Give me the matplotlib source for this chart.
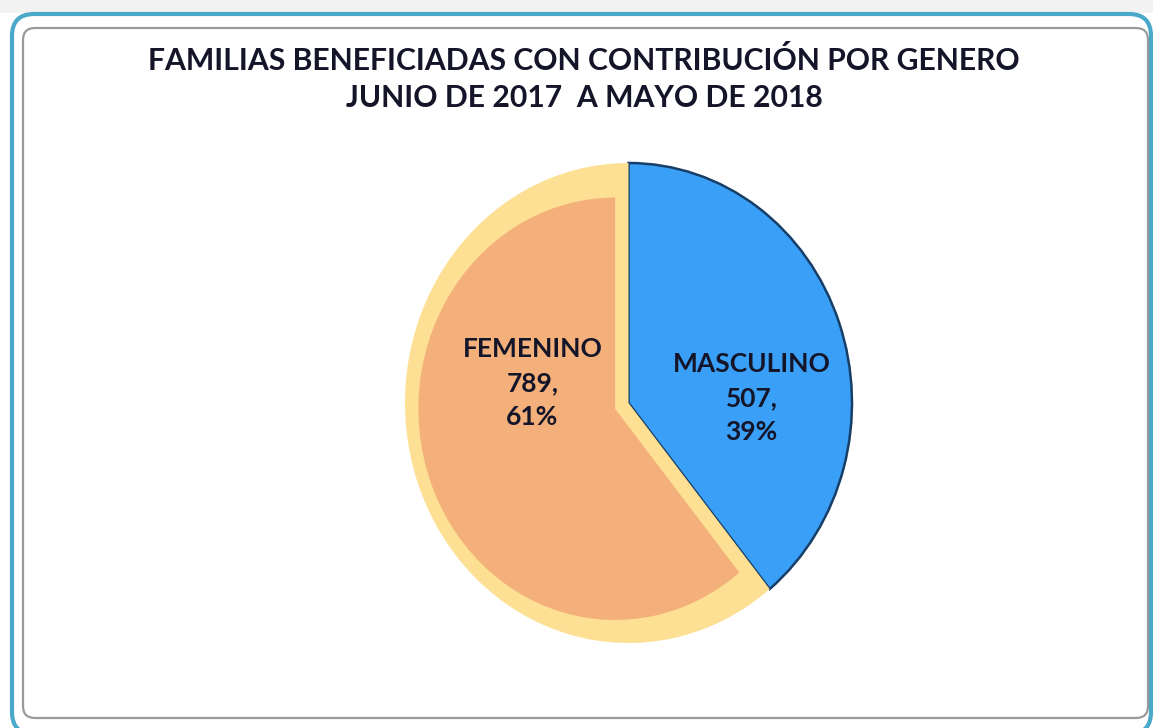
import matplotlib
matplotlib.use("Agg")
import matplotlib.pyplot as plt
from matplotlib.patches import FancyBboxPatch, Rectangle

# data
generos = ["MASCULINO", "FEMENINO"]
familias = [507, 789]
porcentajes = [39, 61]
titulo = "FAMILIAS BENEFICIADAS CON CONTRIBUCIÓN POR GENERO\nJUNIO DE 2017  A MAYO DE 2018"

azul = "#3a9ff7"
naranja = "#f4b07a"
bisel = "#fde093"

plt.rcParams['font.family'] = ['Lato', 'DejaVu Sans']

fig = plt.figure(figsize=(11.53, 7.28), dpi=100)

# marco de fondo en pixeles
bg = fig.add_axes([0, 0, 1, 1])
bg.set_xlim(0, 1153)
bg.set_ylim(728, 0)
bg.axis("off")
bg.add_patch(Rectangle((0, 0), 1153, 13, color="#f2f2f2", lw=0))
bg.add_patch(FancyBboxPatch((12, 14), 1139, 720, boxstyle="round,pad=0,rounding_size=22",
                            fc="white", ec="#4aa8c8", lw=3))
bg.add_patch(FancyBboxPatch((23, 28), 1125, 690, boxstyle="round,pad=0,rounding_size=12",
                            fc="white", ec="#9a9a9a", lw=1.6))
bg.text(584, 79, titulo, ha="center", va="center", fontsize=21.7, fontweight="bold",
        color="#15152a", linespacing=1.38)

# pastel
ax = fig.add_axes([405/1153, (728-643)/728, 447/1153, 480/728])
outer, _ = ax.pie(familias, colors=[azul, bisel], startangle=90, counterclock=False, radius=1,
                  wedgeprops=dict(linewidth=0))
outer[0].set_edgecolor("#173e66")
outer[0].set_linewidth(1.8)
# parte naranja, metida dentro del bisel
inner, _ = ax.pie(familias, colors=["none", naranja], startangle=90, counterclock=False,
                  radius=0.88, center=(-0.06, -0.024), wedgeprops=dict(linewidth=0))
inner[0].set_visible(False)
ax.set_xlim(-1, 1)
ax.set_ylim(-1, 1)
ax.set_aspect("auto")
ax.axis("off")

pos = {"MASCULINO": (0.55, 0.02), "FEMENINO": (-0.43, 0.083)}
for g, n, p in zip(generos, familias, porcentajes):
    x, y = pos[g]
    ax.text(x, y, f"{g}\n{n},\n{p}%", ha="center", va="center", fontsize=19,
            fontweight="bold", color="#15152a", linespacing=1.5)

fig.savefig("out.png", dpi=100)
